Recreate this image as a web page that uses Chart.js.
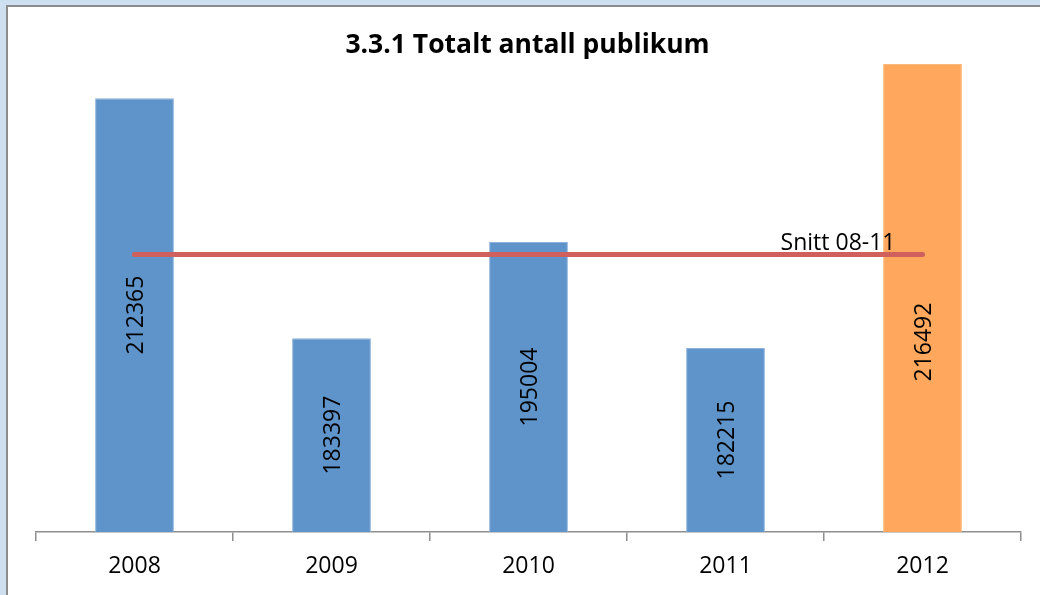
<!DOCTYPE html>
<html>
<head>
<meta charset="utf-8">
<script src="https://cdn.jsdelivr.net/npm/chart.js@4.4.1/dist/chart.umd.min.js"></script>
<style>
  html, body { margin:0; padding:0; width:1040px; height:595px; overflow:hidden; background:#CEDFF1; }
  #frame { position:absolute; left:6px; top:5px; width:1034px; height:590px; border-top:2px solid #8C8C8C; border-left:2px solid #8C8C8C; background:#fff; box-sizing:border-box; }
  canvas { position:absolute; left:0; top:0; }
</style>
</head>
<body>
<div id="frame"><canvas id="c" width="1032" height="588"></canvas></div>
<script>
const titleText = "3.3.1 Totalt antall publikum";
const categories = ["2008", "2009", "2010", "2011", "2012"];
const visitors = [212365, 183397, 195004, 182215, 216492];
const averageLabel = "Snitt 08-11";
const average08to11 = [193495.25, 193495.25, 193495.25, 193495.25, 193495.25];
const barColors = ["#5E94C9", "#5E94C9", "#5E94C9", "#5E94C9", "#FFA85D"];
const barBorders = ["#8DB3DD", "#8DB3DD", "#8DB3DD", "#8DB3DD", "#FFB877"];
const yMin = 160000, yMax = 220000;

const FONT = '"Open Sans", "Liberation Sans", sans-serif';

const overlay = {
  id: 'overlay',
  afterDraw(chart) {
    const ctx = chart.ctx;
    const ys = chart.scales.y;
    const xs = chart.scales.x;
    ctx.save();
    ctx.fillStyle = '#000';
    ctx.font = '23px ' + FONT;
    ctx.textAlign = 'center';
    ctx.textBaseline = 'middle';
    visitors.forEach((v, i) => {
      const top = ys.getPixelForValue(v);
      const base = ys.getPixelForValue(yMin);
      const cx = xs.getPixelForValue(i);
      // the last label sits lower in the bar, below the average line
      const shift = (i === visitors.length - 1) ? 44 : 0;
      const cy = (top + base) / 2 + shift;
      ctx.save();
      ctx.translate(cx + 2, cy);
      ctx.rotate(-Math.PI / 2);
      ctx.fillText(String(v), 0, 0);
      ctx.restore();
    });
    // average label near last point
    const lx = xs.getPixelForValue(categories.length - 1);
    const ly = ys.getPixelForValue(average08to11[average08to11.length - 1]);
    ctx.textAlign = 'right';
    ctx.textBaseline = 'alphabetic';
    ctx.fillText(averageLabel, lx - 27, ly - 5);
    // title
    ctx.font = 'bold 26.5px ' + FONT;
    ctx.textAlign = 'center';
    ctx.fillText(titleText, 519.5, 46);
    ctx.restore();
  }
};

new Chart(document.getElementById('c'), {
  data: {
    labels: categories,
    datasets: [
      {
        type: 'line',
        label: averageLabel,
        data: average08to11,
        borderColor: '#D0605E',
        borderWidth: 5,
        borderCapStyle: 'round',
        pointRadius: 0,
        order: 0
      },
      {
        type: 'bar',
        label: 'Publikum',
        data: visitors,
        backgroundColor: barColors,
        borderColor: barBorders,
        borderWidth: 1,
        categoryPercentage: 1,
        barPercentage: 0.4,
        order: 1
      }
    ]
  },
  options: {
    responsive: false,
    devicePixelRatio: 1,
    animation: false,
    layout: { padding: { left: 28, right: 19, top: 28, bottom: 10 } },
    plugins: { legend: { display: false }, title: { display: false }, tooltip: { enabled: false } },
    scales: {
      x: {
        offset: true,
        grid: { display: true, drawOnChartArea: false, drawTicks: true, tickLength: 9, color: '#8E8E8E', lineWidth: 1.5, offset: true },
        border: { display: true, color: '#8E8E8E', width: 1.5 },
        ticks: { color: '#000', font: { family: FONT, size: 23 }, padding: 12, maxRotation: 0 },
        afterFit(s) { s.height = 53; }
      },
      y: {
        display: false,
        min: yMin,
        max: yMax
      }
    }
  },
  plugins: [overlay]
});
</script>
</body>
</html>
